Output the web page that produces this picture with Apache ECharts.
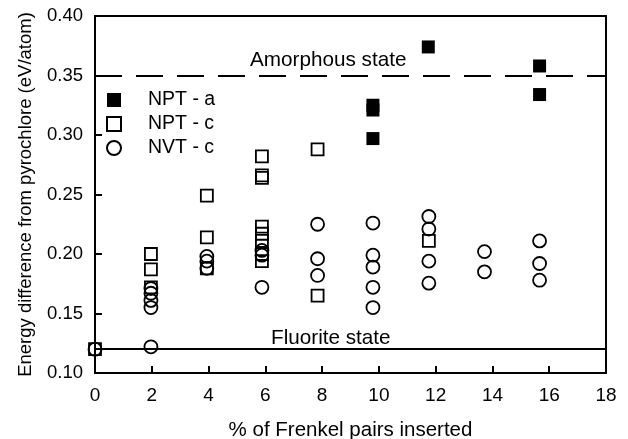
<!DOCTYPE html>
<html>
<head>
<meta charset="utf-8">
<script src="https://cdn.jsdelivr.net/npm/echarts@6/dist/echarts.min.js"></script>
<style>
  html, body { margin: 0; padding: 0; background: #fff; }
  #chart { width: 628px; height: 439px; }
</style>
</head>
<body>
<div id="chart"></div>
<script>
// values: [% Frenkel pairs, energy eV/atom]
const nptA = [[9.79, 0.325], [9.79, 0.321], [9.79, 0.297], [11.74, 0.374], [15.66, 0.358], [15.66, 0.334]];
const nptC = [[0, 0.12], [1.97, 0.200], [1.97, 0.187], [1.97, 0.172], [3.94, 0.249], [3.94, 0.214], [3.94, 0.188],
  [5.88, 0.282], [5.88, 0.266], [5.88, 0.264], [5.88, 0.223], [5.88, 0.217], [5.88, 0.211], [5.88, 0.200], [5.88, 0.194],
  [7.84, 0.288], [7.84, 0.165], [11.76, 0.211]];
const nvtC = [[0, 0.12], [1.97, 0.171], [1.97, 0.167], [1.97, 0.161], [1.97, 0.155], [1.97, 0.122],
  [3.94, 0.198], [3.94, 0.194], [3.94, 0.188], [5.88, 0.203], [5.88, 0.199], [5.88, 0.172],
  [7.84, 0.225], [7.84, 0.196], [7.84, 0.182], [9.79, 0.226], [9.79, 0.199], [9.79, 0.189], [9.79, 0.172], [9.79, 0.155],
  [11.76, 0.2315], [11.76, 0.221], [11.76, 0.194], [11.76, 0.1755], [13.72, 0.202], [13.72, 0.185],
  [15.66, 0.211], [15.66, 0.192], [15.66, 0.178]];
const amorphousLevel = 0.35;
const fluoriteLevel = 0.119;

const font = "'Liberation Sans', Arial, sans-serif";
const chart = echarts.init(document.getElementById('chart'));

chart.setOption({
  animation: false,
  textStyle: { fontFamily: font, color: '#000' },
  grid: {
    left: 95, right: 22, top: 16, bottom: 66, outerBoundsMode: 'none',
    show: true, borderColor: '#000', borderWidth: 2
  },
  legend: {
    orient: 'vertical', left: 101, top: 85, itemWidth: 14, itemHeight: 14, itemGap: 4,
    textStyle: { fontSize: 19.5, fontFamily: font, color: '#000', padding: [0, 0, 0, 22] },
    data: ['NPT - a', 'NPT - c', 'NVT - c']
  },
  xAxis: {
    type: 'value', min: 0, max: 18, interval: 2,
    name: '% of Frenkel pairs inserted', nameLocation: 'middle', nameGap: 47,
    nameTextStyle: { fontSize: 20.5, color: '#000' },
    axisLine: { lineStyle: { color: '#000', width: 2 } },
    axisTick: { inside: true, length: 7, lineStyle: { color: '#000', width: 2 } },
    axisLabel: { fontSize: 19, color: '#000', margin: 13 },
    splitLine: { show: false }
  },
  yAxis: {
    type: 'value', min: 0.10, max: 0.40, interval: 0.05,
    name: 'Energy difference from pyrochlore (eV/atom)', nameLocation: 'middle', nameGap: 60,
    nameTextStyle: { fontSize: 18.5, color: '#000' },
    axisLine: { lineStyle: { color: '#000', width: 2 } },
    axisTick: { inside: true, length: 7, lineStyle: { color: '#000', width: 2 } },
    axisLabel: { fontSize: 18.5, color: '#000', margin: 12, formatter: v => v.toFixed(2) },
    splitLine: { show: false }
  },
  graphic: [
    { type: 'text', left: 250, top: 50, style: { text: 'Amorphous state', font: '20.7px ' + font, fill: '#000' } },
    { type: 'text', left: 271, top: 328, style: { text: 'Fluorite state', font: '20.7px ' + font, fill: '#000' } }
  ],
  series: [
    {
      name: 'lines', type: 'line', data: [], silent: true,
      markLine: {
        silent: true, symbol: ['none', 'none'], label: { show: false },
        data: [
          { yAxis: amorphousLevel, lineStyle: { color: '#000', width: 2, type: [27, 14], opacity: 1 } },
          { yAxis: fluoriteLevel, lineStyle: { color: '#000', width: 2, type: 'solid', opacity: 1 } }
        ]
      }
    },
    {
      name: 'NPT - a', type: 'scatter', symbol: 'rect', symbolSize: 13, data: nptA,
      itemStyle: { color: '#000', opacity: 1 }
    },
    {
      name: 'NPT - c', type: 'scatter', symbol: 'rect', symbolSize: 12, data: nptC,
      itemStyle: { color: 'rgba(0,0,0,0)', borderColor: '#000', borderWidth: 1.8, opacity: 1 }
    },
    {
      name: 'NVT - c', type: 'scatter', symbol: 'circle', symbolSize: 13, data: nvtC,
      itemStyle: { color: 'rgba(0,0,0,0)', borderColor: '#000', borderWidth: 1.8, opacity: 1 }
    }
  ]
});
</script>
</body>
</html>
